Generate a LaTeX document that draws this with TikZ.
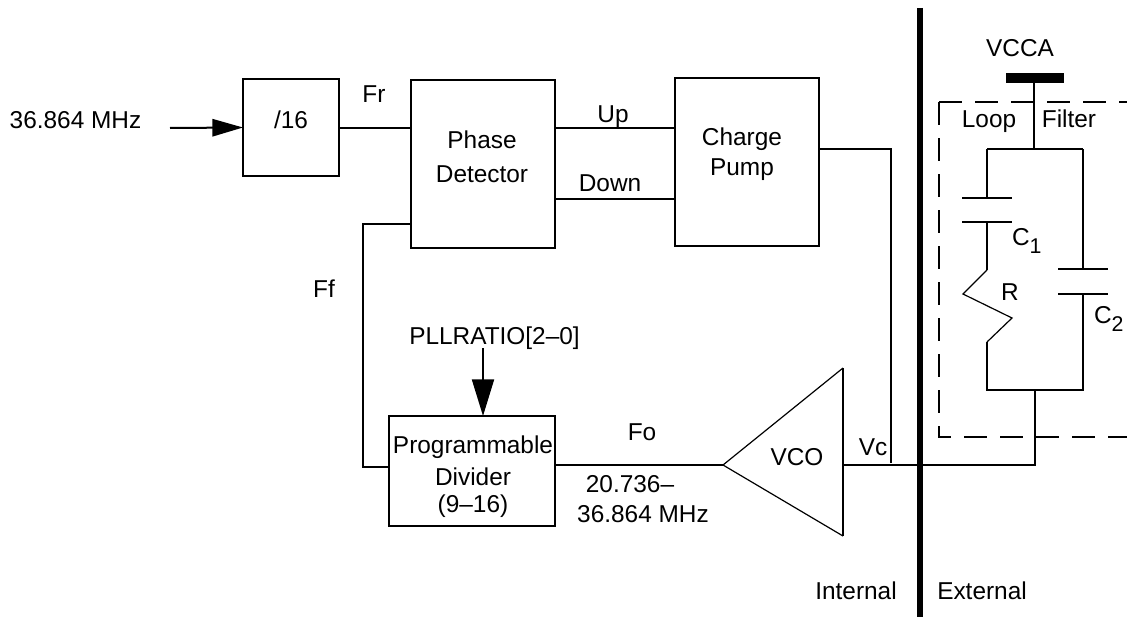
\documentclass[tikz,border=0pt]{standalone}
\usepackage{fontspec}
\setmainfont{Liberation Sans}
\usetikzlibrary{arrows.meta}
\newcommand{\lowsub}[1]{\raisebox{-6pt}{\fontsize{16}{16}\selectfont #1}}
\begin{document}
\begin{tikzpicture}[x=0.75pt,y=-0.75pt,
  line width=1.5pt,
  lbl/.style={font=\fontsize{18.3}{22}\selectfont, inner sep=0pt, anchor=base},
  blk/.style={draw, line width=1.5pt, inner sep=0pt, outer sep=0pt},
  thin/.style={line width=0.9pt},
  dsh/.style={line width=1.5pt, dash pattern=on 17pt off 10pt}]
\useasboundingbox (0,0) rectangle (1127,617);

% blocks
\node[blk, minimum width=72pt, minimum height=72.75pt] (div) at (291,127.5) {};
\node[blk, minimum width=108pt, minimum height=126pt] (pd) at (483,164) {};
\node[blk, minimum width=108pt, minimum height=126pt] (cp) at (747,162) {};
\node[blk, minimum width=124.5pt, minimum height=82.5pt] (prog) at (472,471) {};

% labels
\node[lbl] (tin) at (75.5,128) {36.864 MHz};
\node[lbl] (tdiv) at (291,128) {/16};
\node[lbl] (tfr) at (374,103) {Fr};
\node[lbl] (tpd1) at (482,148) {Phase};
\node[lbl] (tpd2) at (482,182) {Detector};
\node[lbl] (tup) at (613,122) {Up};
\node[lbl] (tdn) at (610,191) {Down};
\node[lbl] (tcp1) at (742,145) {Charge};
\node[lbl] (tcp2) at (742,175) {Pump};
\node[lbl] (tff) at (324,297) {Ff};
\node[lbl] (tpll) at (494.5,344) {PLLRATIO[2–0]};
\node[lbl] (tpg1) at (473,453) {Programmable};
\node[lbl] (tpg2) at (473,485) {Divider};
\node[lbl] (tpg3) at (473,512) {(9–16)};
\node[lbl] (tfo) at (642,440) {Fo};
\node[lbl] (tf1) at (630,492) {20.736–};
\node[lbl] (tf2) at (643,522) {36.864 MHz};
\node[lbl] (tvco) at (797,465) {VCO};
\node[lbl] (tvc) at (873,455) {Vc};
\node[lbl] (tint) at (856,599) {Internal};
\node[lbl] (text) at (982,599) {External};
\node[lbl] (tvcca) at (1020,57) {VCCA};
\node[lbl] (tloop) at (989,127) {Loop};
\node[lbl] (tfil) at (1069,127) {Filter};
\node[lbl, anchor=base west] (tc1) at (1011,245) {C\lowsub{1}};
\node[lbl] (tr) at (1010,300) {R};
\node[lbl, anchor=base west] (tc2) at (1093,323) {C\lowsub{2}};

% coordinates
\coordinate (inA) at (170,128);
\coordinate (pllA) at (483,348);
\coordinate (vcA) at (891,149);
\coordinate (vcB) at (891,463);
\coordinate (fbA) at (363,224);
\coordinate (fbB) at (363,467);
\coordinate (apex) at (723,465);
\coordinate (vtop) at (843,368);
\coordinate (vbot) at (843,536);
\coordinate (vout) at (843,465);
\coordinate (lfj) at (1035,465);
\coordinate (lfb) at (1035,390);

% connectors
\draw[-{Triangle[length=23pt,width=13pt]}] (inA) -- (div.west);
\draw (div.east) -- (div.east -| pd.west);
\draw (pd.east |- 0,128) -- (cp.west |- 0,128);
\draw (pd.east |- 0,199) -- (cp.west |- 0,199);
\draw (cp.east |- vcA) -- (vcA) -- (vcB);
\draw (pd.west |- fbA) -- (fbA) -- (fbB) -- (prog.west |- fbB);
\draw[-{Triangle[length=27.5pt,width=16.5pt]}] (pllA) -- (pllA |- prog.north);
\draw (prog.east |- apex) -- (apex);
\draw[thin] (vtop) -- (apex) -- (vbot);
\draw (vtop) -- (vbot);
\draw (vout) -- (lfj) -- (lfb);

% boundary
\draw[line width=4.5pt] (920,8) -- (920,617);

% loop filter
\fill (1006,73) rectangle (1064,83);
\draw (1034,83) -- (1034,149);
\draw (987,149) -- (1083,149);
\draw (987,149) -- (987,198);
\draw (962,198) -- (1012,198);
\draw (962,222) -- (1012,222);
\draw (987,222) -- (987,270);
\draw[thin] (987,270) -- (963,294) -- (1012,318) -- (987,342);
\draw (987,342) -- (987,390) -- (1083,390) -- (1083,294);
\draw (1083,149) -- (1083,269);
\draw (1058,269) -- (1108,269);
\draw (1058,294) -- (1108,294);
\draw[dsh] (939,102) -- (1130,102);
\draw[dsh] (939,102) -- (939,437) -- (1130,437);
\end{tikzpicture}
\end{document}
